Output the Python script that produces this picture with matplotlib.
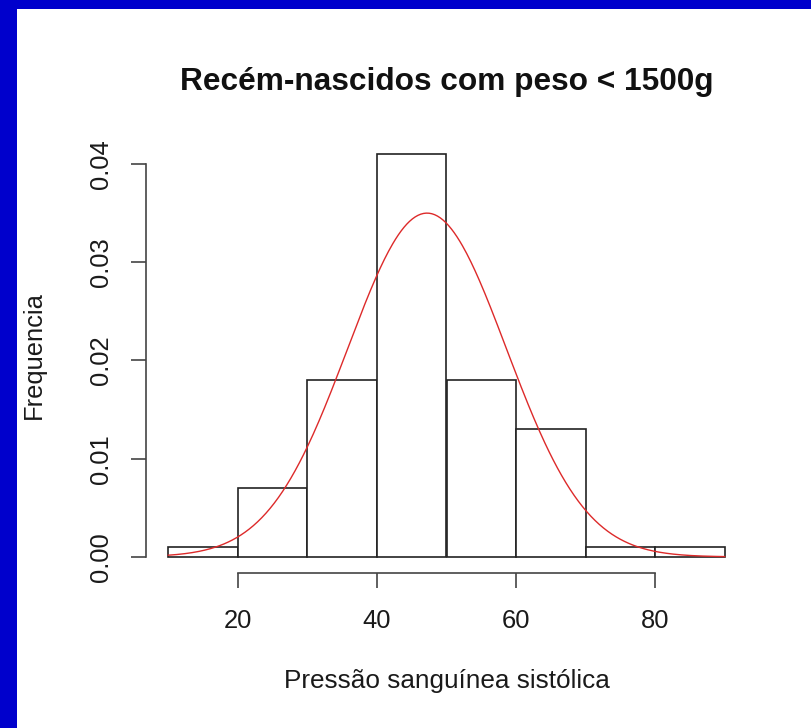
import numpy as np
import matplotlib
matplotlib.use("Agg")
import matplotlib.pyplot as plt
from matplotlib.patches import Rectangle

# Data
breaks = [10, 20, 30, 40, 50, 60, 70, 80, 90]
density = [0.001, 0.007, 0.018, 0.041, 0.018, 0.013, 0.001, 0.001]
fit_mean = 47.2
fit_sd = 11.4
x_ticks = [20, 40, 60, 80]
y_ticks = [0.00, 0.01, 0.02, 0.03, 0.04]
y_tick_labels = ["0.00", "0.01", "0.02", "0.03", "0.04"]

title = "Recém-nascidos com peso < 1500g"
xlabel = "Pressão sanguínea sistólica"
ylabel = "Frequencia"

plt.rcParams['font.family'] = ['Liberation Sans', 'DejaVu Sans']

W, H = 812, 728
fig = plt.figure(figsize=(W / 100, H / 100), dpi=100)
fig.patch.set_facecolor('white')

# Blue border (top and left)
fig.patches.append(Rectangle((0, 1 - 9 / H), 1, 9 / H, transform=fig.transFigure,
                             facecolor='#0000CC', edgecolor='none', zorder=0))
fig.patches.append(Rectangle((0, 0), 17 / W, 1, transform=fig.transFigure,
                             facecolor='#0000CC', edgecolor='none', zorder=0))

left, right, top, bottom = 146, 747, 138, 573
ax = fig.add_axes([left / W, (H - bottom) / H, (right - left) / W, (bottom - top) / H])
ax.set_facecolor('none')

widths = np.diff(breaks)
ax.bar(breaks[:-1], density, width=widths, align='edge', facecolor='white',
       edgecolor='#222222', linewidth=1.2)

xs = np.linspace(breaks[0], breaks[-1], 400)
ys = np.exp(-0.5 * ((xs - fit_mean) / fit_sd) ** 2) / (fit_sd * np.sqrt(2 * np.pi))
ax.plot(xs, ys, color='#dd2a2a', linewidth=1.0)

rx = breaks[-1] - breaks[0]
ax.set_xlim(breaks[0] - 0.04 * rx, breaks[-1] + 0.04 * rx)
ymax = max(density)
ax.set_ylim(-0.04 * ymax, ymax * 1.04)

for s in ['top', 'right']:
    ax.spines[s].set_visible(False)
ax.spines['left'].set_bounds(y_ticks[0], y_ticks[-1])
ax.spines['bottom'].set_bounds(x_ticks[0], x_ticks[-1])
for s in ['left', 'bottom']:
    ax.spines[s].set_color('#444444')
    ax.spines[s].set_linewidth(1.2)

ax.set_xticks(x_ticks)
ax.set_xticklabels([str(v) for v in x_ticks])
ax.set_yticks(y_ticks)
ax.set_yticklabels(y_tick_labels, rotation=90, va='center')
ax.tick_params(axis='both', length=11, width=1.2, color='#444444',
               labelsize=18.4, labelcolor='#1a1a1a')
ax.tick_params(axis='x', pad=15)
ax.tick_params(axis='y', pad=13)

fig.text((left + right) / 2 / W, 1 - 90 / H, title, ha='center', va='baseline',
         fontsize=22.8, fontweight='bold', color='#111111')
fig.text((left + right) / 2 / W, 1 - 688 / H, xlabel, ha='center', va='baseline',
         fontsize=18.8, color='#1a1a1a')
fig.text(34 / W, 1 - 355 / H, ylabel, ha='center', va='center', rotation=90,
         fontsize=18.4, color='#1a1a1a')

fig.savefig('out.png', dpi=100)
